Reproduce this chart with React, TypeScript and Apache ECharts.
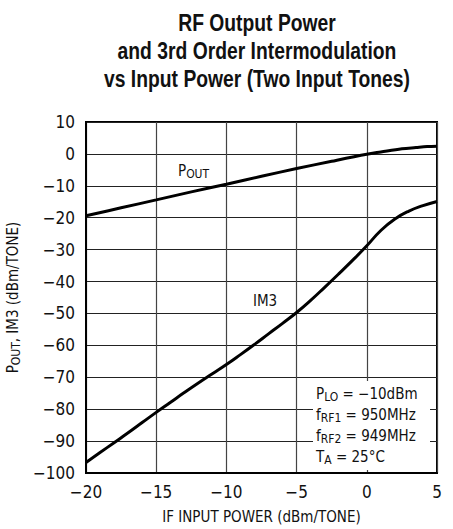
import React, { useEffect, useRef } from "react";
import * as echarts from "echarts";

const poutX = [-20, -17.5, -15, -12.5, -10, -7.5, -5, -2.5, 0, 1, 2.5, 3.5, 4.3, 5];
const poutY = [-19.4, -16.9, -14.4, -11.9, -9.5, -7.0, -4.6, -2.3, -0.1, 0.6, 1.6, 2.0, 2.3, 2.4];
const im3X = [-20, -19, -18, -17, -16, -15, -14, -13, -12, -11, -10, -9, -8, -7, -6, -5, -4, -3, -2, -1, 0, 1, 2, 3, 4, 5];
const im3Y = [-96.7, -93.6, -90.5, -87.4, -84.2, -81.0, -77.9, -74.8, -71.8, -68.9, -66.0, -62.9, -59.7, -56.4, -53.1, -49.7, -45.9, -41.8, -37.6, -33.3, -28.8, -24.0, -20.4, -17.9, -16.2, -14.9];
const titleLines = ["RF Output Power", "and 3rd Order Intermodulation", "vs Input Power (Two Input Tones)"];
const conditions = [
  ["P", "LO", " = \u221210dBm"],
  ["f", "RF1", " = 950MHz"],
  ["f", "RF2", " = 949MHz"],
  ["T", "A", " = 25\u00B0C"],
];

const FONT = "'DejaVu Sans Condensed', 'Liberation Sans', sans-serif";
const TFONT = "'Liberation Sans', Arial, sans-serif";

const fmt = (v: number) => (v < 0 ? "\u2212" + Math.abs(v) : String(v));

export default function App() {
  const ref = useRef<HTMLDivElement>(null);
  useEffect(() => {
    document.body.style.margin = "0";
    const chart = echarts.init(ref.current!, null, { renderer: "svg" });
    const gridL = 86, gridT = 122, gridR = 16, gridB = 56;
    const richAxis = {
      a: { fontSize: 15, fontFamily: FONT, color: "#111", lineHeight: 18 },
      s: { fontSize: 12, fontFamily: FONT, color: "#111", lineHeight: 18, verticalAlign: "bottom" },
    };
    const richG = {
      a: { fontSize: 15, fontFamily: FONT, fill: "#111", lineHeight: 21, verticalAlign: "middle" },
      s: { fontSize: 12, fontFamily: FONT, fill: "#111", lineHeight: 21, verticalAlign: "bottom", padding: [0, 0, 1, 0] },
    };
    chart.setOption({
      animation: false,
      backgroundColor: "#fff",
      grid: {
        left: gridL, top: gridT, right: gridR, bottom: gridB,
        show: true, borderColor: "#000", borderWidth: 2, backgroundColor: "transparent",
        outerBoundsMode: "none", containLabel: false,
      },
      xAxis: {
        type: "value",
        min: -20,
        max: 5,
        interval: 5,
        name: "IF INPUT POWER (dBm/TONE)",
        nameLocation: "middle",
        nameGap: 36,
        nameTextStyle: { fontSize: 15, fontFamily: FONT, color: "#111" },
        axisLine: { show: true, onZero: false, lineStyle: { color: "#000", width: 2 } },
        axisTick: { show: false },
        splitLine: { show: true, lineStyle: { color: "#444", width: 1.2 } },
        axisLabel: { formatter: fmt, fontSize: 17, fontFamily: FONT, color: "#111", margin: 10 },
      },
      yAxis: {
        type: "value",
        min: -100,
        max: 10,
        interval: 10,
        name: "{a|P}{s|OUT}{a|, IM3 (dBm/TONE)}",
        nameLocation: "middle",
        nameGap: 54,
        nameTextStyle: { rich: richAxis },
        axisLine: { show: true, onZero: false, lineStyle: { color: "#000", width: 2 } },
        axisTick: { show: false },
        splitLine: { show: true, lineStyle: { color: "#222", width: 1.2 } },
        axisLabel: { formatter: fmt, fontSize: 17, fontFamily: FONT, color: "#111", margin: 11 },
      },
      series: [
        {
          type: "line",
          name: "POUT",
          smooth: 0.35,
          symbol: "none",
          lineStyle: { color: "#000", width: 3 },
          data: poutX.map((x, i) => [x, poutY[i]]),
          z: 3,
        },
        {
          type: "line",
          name: "IM3",
          smooth: 0.5,
          symbol: "none",
          lineStyle: { color: "#000", width: 3 },
          data: im3X.map((x, i) => [x, im3Y[i]]),
          z: 3,
        },
      ],
      graphic: [
        {
          type: "text",
          x: 257,
          y: 9,
          scaleX: 0.84,
          originX: 0,
          style: {
            text: titleLines.join("\n"),
            align: "center",
            fontSize: 23,
            fontWeight: "bold",
            fontFamily: TFONT,
            lineHeight: 28,
            fill: "#111",
          },
        },
        {
          type: "rect",
          shape: { x: 313, y: 381, width: 117, height: 89 },
          style: { fill: "#fff" },
          z: 10,
        },
        {
          type: "text",
          x: 316,
          y: 383,
          z: 11,
          style: {
            text: conditions.map((c) => `{a|${c[0]}}{s|${c[1]}}{a|${c[2]}}`).join("\n"),
            rich: richG,
          },
        },
        {
          type: "text",
          x: 178,
          y: 160,
          z: 11,
          style: { text: "{a|P}{s|OUT}", rich: richG },
        },
        {
          type: "text",
          x: 253,
          y: 293,
          z: 11,
          style: { text: "IM3", fontSize: 15, fontFamily: FONT, fill: "#111" },
        },
      ],
    });
    return () => chart.dispose();
  }, []);
  return <div ref={ref} style={{ width: 453, height: 529 }} />;
}
